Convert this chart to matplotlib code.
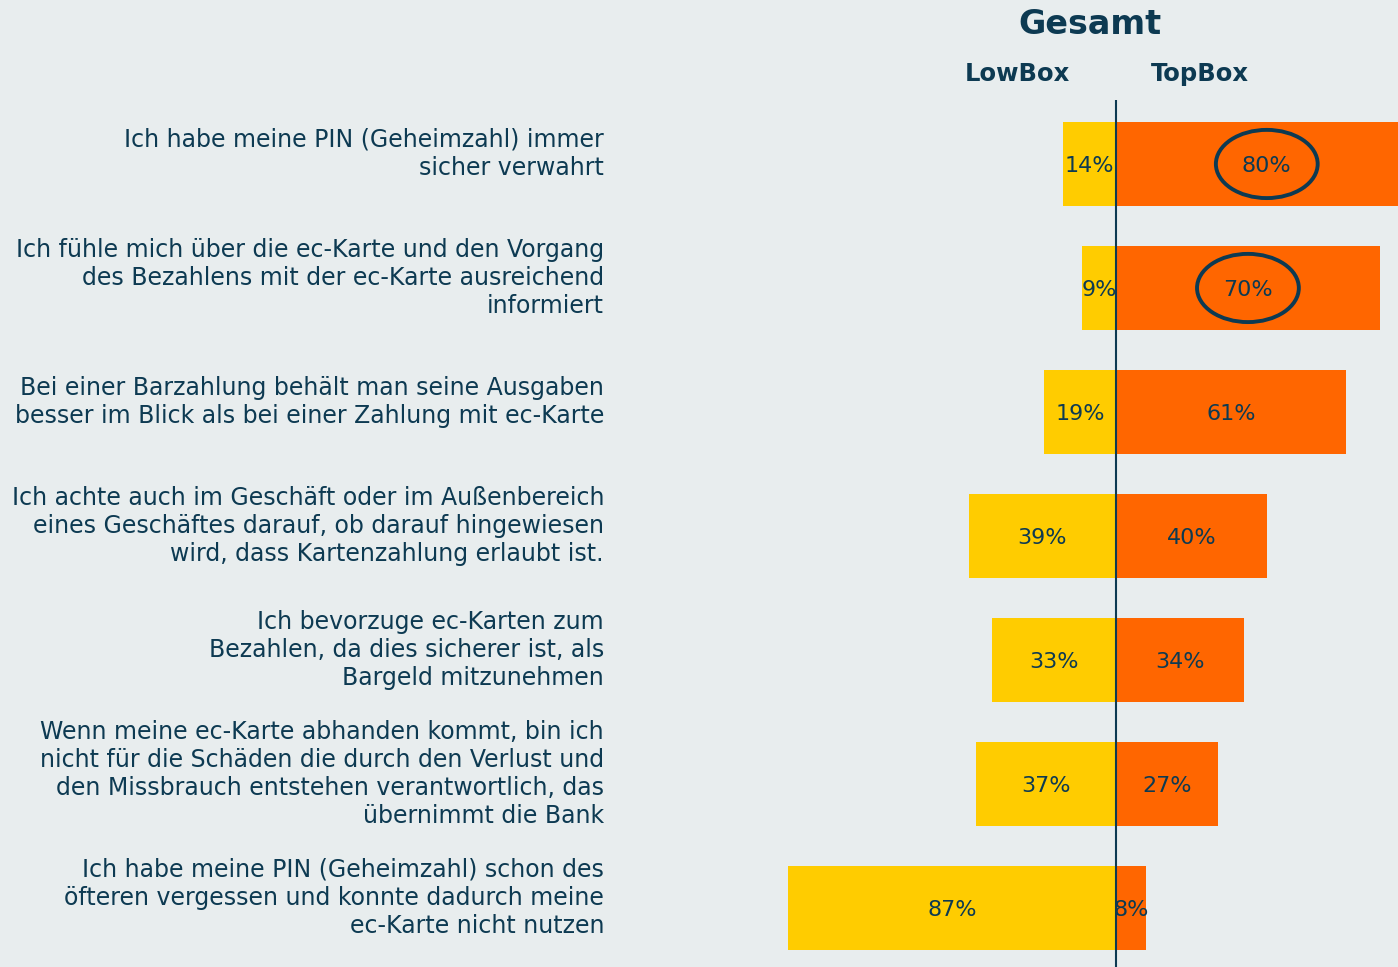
import matplotlib
matplotlib.use("Agg")
import matplotlib.pyplot as plt
from matplotlib.patches import Ellipse
from matplotlib.transforms import blended_transform_factory

# Aussagen (von oben nach unten)
aussagen = [
    "Ich habe meine PIN (Geheimzahl) immer\nsicher verwahrt",
    "Ich fühle mich über die ec-Karte und den Vorgang\ndes Bezahlens mit der ec-Karte ausreichend\ninformiert",
    "Bei einer Barzahlung behält man seine Ausgaben\nbesser im Blick als bei einer Zahlung mit ec-Karte",
    "Ich achte auch im Geschäft oder im Außenbereich\neines Geschäftes darauf, ob darauf hingewiesen\nwird, dass Kartenzahlung erlaubt ist.",
    "Ich bevorzuge ec-Karten zum\nBezahlen, da dies sicherer ist, als\nBargeld mitzunehmen",
    "Wenn meine ec-Karte abhanden kommt, bin ich\nnicht für die Schäden die durch den Verlust und\nden Missbrauch entstehen verantwortlich, das\nübernimmt die Bank",
    "Ich habe meine PIN (Geheimzahl) schon des\nöfteren vergessen und konnte dadurch meine\nec-Karte nicht nutzen",
]
lowbox = [14, 9, 19, 39, 33, 37, 87]
topbox = [80, 70, 61, 40, 34, 27, 8]
markiert = [0, 1]  # Zeilen mit Kreis um TopBox-Wert

bg = "#E8EDEE"
navy = "#0D3A52"
gelb = "#FFCC00"
orange = "#FF6600"

fig = plt.figure(figsize=(13.98, 9.67), dpi=100, facecolor=bg)
ax = fig.add_axes([760 / 1398, 0, 1 - 760 / 1398, 867 / 967])
ax.set_facecolor(bg)

n = len(aussagen)
ys = list(range(n))
ax.barh(ys, [-v for v in lowbox], height=0.67, color=gelb)
ax.barh(ys, topbox, height=0.67, color=orange)
ax.axvline(0, color=navy, lw=1.5)

ax.set_xlim(-94.4, 74.8)
ax.set_ylim(n - 1 + 0.476, -0.516)
ax.axis("off")

for y, lo, tp in zip(ys, lowbox, topbox):
    ax.text(-lo / 2, y + 0.02, f"{lo}%", ha="center", va="center", color=navy,
            fontsize=16, clip_on=False)
    ax.text(tp / 2, y + 0.02, f"{tp}%", ha="center", va="center", color=navy,
            fontsize=16, clip_on=False)

for i in markiert:
    ax.add_patch(Ellipse((topbox[i] / 2, i), 27, 0.55, fill=False,
                         edgecolor=navy, lw=2.8))

tr = blended_transform_factory(fig.transFigure, ax.transData)
for y, txt in zip(ys, aussagen):
    ax.text(604 / 1398, y - 0.08, txt, transform=tr, ha="right", va="center",
            color=navy, fontsize=17, linespacing=1.22, clip_on=False)

fig.text(1090 / 1398, 1 - 24 / 967, "Gesamt", ha="center", va="center",
         color=navy, fontsize=24, fontweight="bold")
fig.text(1017 / 1398, 1 - 74 / 967, "LowBox", ha="center", va="center",
         color=navy, fontsize=17.5, fontweight="bold")
fig.text(1200 / 1398, 1 - 74 / 967, "TopBox", ha="center", va="center",
         color=navy, fontsize=17.5, fontweight="bold")

fig.savefig("out.png", dpi=100, facecolor=bg)
